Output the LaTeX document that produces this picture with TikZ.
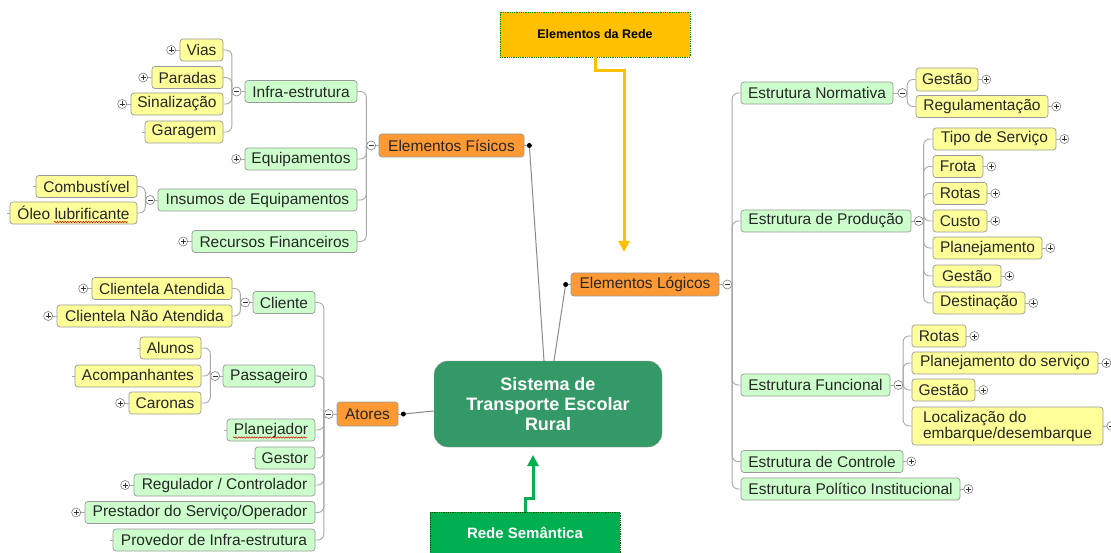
\documentclass[tikz,border=0pt]{standalone}
\usepackage{fontspec}
\setmainfont{Liberation Sans}
\usetikzlibrary{calc,decorations.pathmorphing,arrows.meta}
\definecolor{leafyellow}{HTML}{FFFF99}
\definecolor{leafgreen}{HTML}{CCFFCC}
\definecolor{branchorange}{HTML}{FF9933}
\definecolor{rootgreen}{HTML}{339966}
\definecolor{netgold}{HTML}{FFC000}
\definecolor{semgreen}{HTML}{00B050}
\definecolor{linegray}{HTML}{A8A8A8}
\definecolor{edgegray}{HTML}{9A9A9A}
\definecolor{hubgray}{HTML}{8A8A8A}

\begin{document}
\begin{tikzpicture}[x=1pt,y=-1pt,
  box/.style={draw=edgegray, line width=0.7pt, rounded corners=3pt, minimum height=22pt,
    inner xsep=2pt, inner ysep=0pt, text=black!85, font=\fontsize{15.5}{17}\selectfont},
  yleaf/.style={box, fill=leafyellow},
  gleaf/.style={box, fill=leafgreen},
  obranch/.style={box, fill=branchorange, minimum height=23pt},
  conn/.style={draw=linegray, line width=0.9pt, rounded corners=6pt},
  hubline/.style={draw=hubgray, line width=1pt},
  btn/.style={circle, draw=gray, fill=white, line width=0.6pt, minimum size=9pt, inner sep=0pt},
  expbtn/.style={btn, path picture={
    \draw[black!80, line width=0.7pt]
      ([xshift=-2.5pt]path picture bounding box.center) -- ([xshift=2.5pt]path picture bounding box.center)
      ([yshift=-2.5pt]path picture bounding box.center) -- ([yshift=2.5pt]path picture bounding box.center);}},
  colbtn/.style={btn, path picture={
    \draw[black!80, line width=0.7pt]
      ([xshift=-2.5pt]path picture bounding box.center) -- ([xshift=2.5pt]path picture bounding box.center);}},
  hub/.style={circle, fill=black, inner sep=0pt, minimum size=5pt},
  squiggle/.style={draw=red!85!black, line width=0.5pt, decorate,
    decoration={snake, amplitude=0.7pt, segment length=2.6pt}},
  flowarrow/.style={line width=3pt, -{Triangle[width=11pt,length=11pt]}}
]
\useasboundingbox[fill=white] (0,0) rectangle (1111,553);

% ---------- root ----------
\node[draw=edgegray, fill=rootgreen, rounded corners=14pt, minimum width=228pt, minimum height=86pt,
  align=center, text=white, font=\bfseries\fontsize{18}{20}\selectfont] (ctr) at (548,404)
  {Sistema de\\Transporte Escolar\\Rural};

% ---------- main branches ----------
\node[obranch, minimum width=145pt] (fisicos) at (451.5,145.5) {Elementos Físicos};
\node[obranch, minimum width=148pt] (logicos) at (645,284.5) {Elementos Lógicos};
\node[obranch, minimum width=61pt, minimum height=24pt] (atores) at (367.5,414) {Atores};

% ---------- Elementos Físicos ----------
\node[yleaf, minimum width=43pt]  (vias)     at (201.5,50)   {Vias};
\node[yleaf, minimum width=71pt]  (paradas)  at (187.5,77.5) {Paradas};
\node[yleaf, minimum width=92pt]  (sinal)    at (177,104)    {Sinalização};
\node[yleaf, minimum width=78pt]  (garagem)  at (184,132)    {Garagem};
\node[gleaf, minimum width=112pt] (infra)    at (301,91.5)   {Infra-estrutura};
\node[gleaf, minimum width=112pt] (equip)    at (301,159)    {Equipamentos};
\node[yleaf, minimum width=101pt] (combust)  at (86.5,186.5) {Combustível};
\node[yleaf, minimum width=127pt] (oleo)     at (73.5,213)   {Óleo lubrificante};
\node[gleaf, minimum width=199pt] (insumos)  at (257.5,200)  {Insumos de Equipamentos};
\node[gleaf, minimum width=165pt] (recursos) at (274.5,241.5){Recursos Financeiros};

% ---------- Atores ----------
\node[yleaf, minimum width=140pt] (catend)   at (162,288.5)  {Clientela Atendida};
\node[yleaf, minimum width=175pt] (cnaoat)   at (144.5,316)  {Clientela Não Atendida};
\node[gleaf, minimum width=62pt]  (cliente)  at (284,302.5)  {Cliente};
\node[yleaf, minimum width=61pt]  (alunos)   at (170.5,348)  {Alunos};
\node[yleaf, minimum width=126pt] (acomp)    at (138,376)    {Acompanhantes};
\node[yleaf, minimum width=72pt]  (caronas)  at (165,403)    {Caronas};
\node[gleaf, minimum width=92pt]  (passag)   at (269,376)    {Passageiro};
\node[gleaf, minimum width=88pt]  (planej)   at (271,430)    {Planejador};
\node[gleaf, minimum width=60pt]  (gestor)   at (285,458)    {Gestor};
\node[gleaf, minimum width=181pt] (regul)    at (224.5,485)  {Regulador / Controlador};
\node[gleaf, minimum width=230pt] (prest)    at (200,512.5)  {Prestador do Serviço/Operador};
\node[gleaf, minimum width=202pt] (prov)     at (214,540)    {Provedor de Infra-estrutura};

% ---------- Elementos Lógicos ----------
\node[gleaf, minimum width=152pt] (normativa) at (817,93)    {Estrutura Normativa};
\node[yleaf, minimum width=62pt, minimum height=23pt] (gestaoN) at (947,79.5) {Gestão};
\node[yleaf, minimum width=132pt] (regulam)   at (982,106.5) {Regulamentação};
\node[gleaf, minimum width=170pt] (producao)  at (826,221)   {Estrutura de Produção};
\node[yleaf, minimum width=123pt] (tipo)      at (994.5,139) {Tipo de Serviço};
\node[yleaf, minimum width=50pt]  (frota)     at (958,166.5) {Frota};
\node[yleaf, minimum width=54pt]  (rotasP)    at (960,193.5) {Rotas};
\node[yleaf, minimum width=54pt]  (custo)     at (960,221)   {Custo};
\node[yleaf, minimum width=109pt] (planejP)   at (987.5,248) {Planejamento};
\node[yleaf, minimum width=68pt]  (gestaoP)   at (967,276)   {Gestão};
\node[yleaf, minimum width=92pt]  (destin)    at (979,303)   {Destinação};
\node[gleaf, minimum width=149pt] (funcional) at (815.5,385) {Estrutura Funcional};
\node[yleaf, minimum width=54pt]  (rotasF)    at (939,336)   {Rotas};
\node[yleaf, minimum width=186pt] (planserv)  at (1005,363)  {Planejamento do serviço};
\node[yleaf, minimum width=63pt]  (gestaoF)   at (943.5,390) {Gestão};
\node[yleaf, minimum width=191pt, minimum height=38pt, align=left,
  font=\fontsize{15.5}{16}\selectfont] (localiz) at (1007.5,426) {Localização do\\embarque/desembarque};
\node[gleaf, minimum width=162pt] (controle)  at (822,461.5)  {Estrutura de Controle};
\node[gleaf, minimum width=219pt] (politico)  at (850.5,489)  {Estrutura Político Institucional};

% ---------- collapse buttons ----------
\node[colbtn] (mInfra) at ($(infra.west)+(-8,0)$) {};
\node[colbtn] (mFis)   at ($(fisicos.west)+(-7.5,0)$) {};
\node[colbtn] (mIns)   at ($(insumos.west)+(-7.5,0)$) {};
\node[colbtn] (mCli)   at ($(cliente.west)+(-7.5,0)$) {};
\node[colbtn] (mPas)   at ($(passag.west)+(-7.5,0)$) {};
\node[colbtn] (mAto)   at ($(atores.west)+(-8,0)$) {};
\node[colbtn] (mLog)   at ($(logicos.east)+(8,0)$) {};
\node[colbtn] (mNor)   at ($(normativa.east)+(9,0)$) {};
\node[colbtn] (mPro)   at ($(producao.east)+(7.5,0)$) {};
\node[colbtn] (mFun)   at ($(funcional.east)+(8,0)$) {};

\foreach \p/\m in {infra/mInfra, fisicos/mFis, insumos/mIns, cliente/mCli, passag/mPas, atores/mAto}
  \draw[conn] (\m.east) -- (\p.west);
\foreach \p/\m in {logicos/mLog, normativa/mNor, producao/mPro, funcional/mFun}
  \draw[conn] (\p.east) -- (\m.west);

% ---------- expand buttons ----------
\foreach \n in {vias,paradas,sinal,equip,recursos,catend,cnaoat,caronas,regul,prest}{
  \node[expbtn] (x\n) at ($(\n.west)+(-8.5,0)$) {};
  \draw[conn] (x\n.east) -- (\n.west);
}
\foreach \n in {gestaoN,regulam,tipo,frota,rotasP,custo,planejP,gestaoP,destin,rotasF,planserv,gestaoF,localiz,controle,politico}{
  \node[expbtn] (x\n) at ($(\n.east)+(8,0)$) {};
  \draw[conn] (\n.east) -- (x\n.west);
}

% leaf stubs
\foreach \n in {garagem,combust,oleo,alunos,acomp,planej,gestor,prov}
  \draw[conn] (\n.west) -- ++(-3,0);

% ---------- tree connectors, left side ----------
\foreach \c in {vias,paradas,sinal,garagem} \draw[conn] (\c.east) -| (mInfra.west);
\foreach \c in {infra,equip,insumos,recursos} \draw[conn] (\c.east) -| (mFis.west);
\foreach \c in {combust,oleo} \draw[conn] (\c.east) -| (mIns.west);
\foreach \c in {catend,cnaoat} \draw[conn] (\c.east) -| (mCli.west);
\foreach \c in {alunos,acomp,caronas} \draw[conn] (\c.east) -| (mPas.west);
\foreach \c in {cliente,passag,planej,gestor,regul,prest,prov} \draw[conn] (\c.east) -| (mAto.west);

% ---------- tree connectors, right side ----------
\foreach \c in {normativa,producao,funcional,controle,politico} \draw[conn] (mLog.east) |- (\c.west);
\foreach \c in {gestaoN,regulam} \draw[conn] (mNor.east) |- (\c.west);
\foreach \c in {tipo,frota,rotasP,custo,planejP,gestaoP,destin} \draw[conn] (mPro.east) |- (\c.west);
\foreach \c in {rotasF,planserv,gestaoF,localiz} \draw[conn] (mFun.east) |- (\c.west);

% ---------- hubs to the root ----------
\node[hub] (hFis) at ($(fisicos.east)+(5,0)$) {};
\node[hub] (hLog) at ($(logicos.west)+(-5,0)$) {};
\node[hub] (hAto) at ($(atores.east)+(5,0)$) {};
\draw[hubline] (fisicos.east) -- (hFis);
\draw[hubline] (logicos.west) -- (hLog);
\draw[hubline] (atores.east) -- (hAto);
\draw[hubline] (hFis) -- ($(ctr.north)+(-4,0)$);
\draw[hubline] (hLog) -- ($(ctr.north)+(6,0)$);
\draw[hubline] (hAto) -- ($(ctr.west)+(0,7)$);

% spell-check marks
\draw[squiggle] (54,222) -- (128,222);
\draw[squiggle] (233,437.5) -- (307,437.5);

% ---------- labels with arrows ----------
\node[fill=netgold, draw=green!55!black, densely dotted, line width=0.8pt, minimum width=190pt, minimum height=45pt,
  text=black, font=\bfseries\fontsize{12.5}{14}\selectfont] (redeel) at (595,34.5) {Elementos da Rede};
\node[fill=semgreen, draw=green!35!black, densely dotted, line width=0.8pt, minimum width=190pt, minimum height=42pt,
  text=white, font=\bfseries\fontsize{15}{17}\selectfont] (semnet) at (525,533) {Rede Semântica};

\coordinate (ytip) at (624,252);
\coordinate (gtip) at (533,455);
\draw[flowarrow, draw=netgold] (redeel.south) -- ++(0,13) -| (ytip);
\draw[flowarrow, draw=semgreen] (semnet.north) -- ++(0,-13) -| (gtip);

\end{tikzpicture}
\end{document}
